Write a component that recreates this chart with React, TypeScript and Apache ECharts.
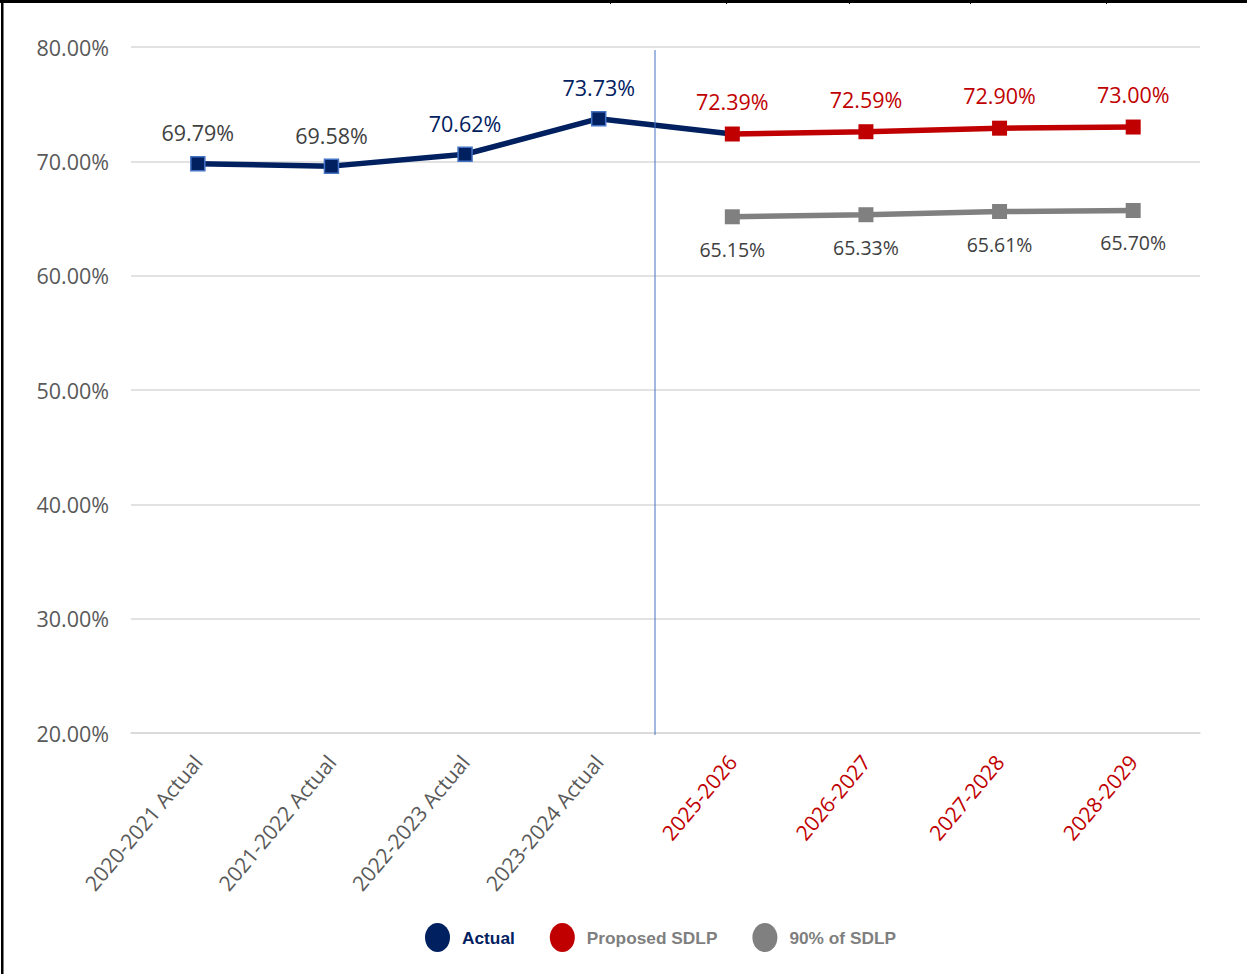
import React, { useEffect, useRef } from "react";
import * as echarts from "echarts";

const categories = [
  "2020-2021 Actual",
  "2021-2022 Actual",
  "2022-2023 Actual",
  "2023-2024 Actual",
  "2025-2026",
  "2026-2027",
  "2027-2028",
  "2028-2029",
];
const actualValues: (number | null)[] = [69.79, 69.58, 70.62, 73.73, 72.39, null, null, null];
const proposedValues: (number | null)[] = [null, null, null, null, 72.39, 72.59, 72.9, 73.0];
const ninetyValues: (number | null)[] = [null, null, null, null, 65.15, 65.33, 65.61, 65.7];
const yTicks = { min: 20, max: 80, interval: 10 };

const NAVY = "#002060";
const RED = "#C00000";
const GRAY = "#808080";
const DARK = "#404040";
const FONT = "'Open Sans', 'Noto Sans', sans-serif";

export default function App() {
  const ref = useRef<HTMLDivElement>(null);
  useEffect(() => {
    document.body.style.margin = "0";
    const chart = echarts.init(ref.current!, null, { renderer: "svg" });
    const actualData = actualValues.map((v, i) => {
      if (v === null) return null;
      if (i === 4) return { value: v, symbol: "none", label: { show: false } };
      return { value: v, label: { color: i < 2 ? DARK : NAVY } };
    });
    chart.setOption({
      animation: false,
      backgroundColor: "#ffffff",
      grid: { left: 131, right: 47, top: 47, bottom: 241, containLabel: false },
      xAxis: {
        type: "category",
        data: categories.map((c, i) => ({
          value: c,
          textStyle: { color: i < 4 ? "#595959" : RED },
        })),
        boundaryGap: true,
        axisLine: { show: true, lineStyle: { color: "#d9d9d9", width: 1.5 } },
        axisTick: { show: false },
        axisLabel: {
          rotate: 50,
          interval: 0,
          fontSize: 21,
          fontFamily: FONT,
          margin: 25,
        },
      },
      yAxis: {
        type: "value",
        min: yTicks.min,
        max: yTicks.max,
        interval: yTicks.interval,
        axisLine: { show: false },
        axisTick: { show: false },
        splitLine: { lineStyle: { color: "#d9d9d9", width: 1.5 } },
        axisLabel: {
          formatter: (v: number) => v.toFixed(2) + "%",
          color: "#595959",
          fontSize: 21.5,
          fontFamily: FONT,
          margin: 22,
        },
      },
      legend: {
        left: 420,
        top: 918,
        itemWidth: 25,
        itemHeight: 29,
        itemGap: 35,
        symbolKeepAspect: false,
        icon: "path://M50,0 A50,50 0 1,1 50,100 A50,50 0 1,1 50,0 Z",
        itemStyle: { borderWidth: 0 },
        textStyle: {
          fontSize: 17.3,
          fontWeight: "bold",
          fontFamily: "'Liberation Sans', Arial, sans-serif",
          color: "#7f7f7f",
          padding: [0, 0, 0, 7],
        },
        data: [
          { name: "Actual", textStyle: { color: NAVY } },
          { name: "Proposed SDLP" },
          { name: "90% of SDLP" },
        ],
      },
      graphic: [
        { type: "rect", shape: { x: 0, y: 0, width: 1247, height: 3 }, style: { fill: "#000" } },
        { type: "rect", shape: { x: 1, y: 0, width: 2.5, height: 974 }, style: { fill: "#000" } },
        ...[610, 726, 849, 970, 1106].map((x) => ({
          type: "rect",
          shape: { x, y: 0, width: 1, height: 4 },
          style: { fill: "#000" },
        })),
        {
          type: "line",
          shape: { x1: 655, y1: 50, x2: 655, y2: 735 },
          style: { stroke: "#4472C4", lineWidth: 1 },
          z: 5,
        },
      ],
      series: [
        {
          name: "Actual",
          type: "line",
          data: actualData,
          color: NAVY,
          symbol: "rect",
          symbolSize: 14,
          lineStyle: { color: NAVY, width: 5.5 },
          itemStyle: { color: NAVY, borderColor: "#4472C4", borderWidth: 1.5 },
          label: {
            show: true,
            position: "top",
            distance: 12,
            formatter: (p: any) => p.value.toFixed(2) + "%",
            fontSize: 21.5,
            fontFamily: FONT,
          },
          z: 3,
        },
        {
          name: "Proposed SDLP",
          type: "line",
          data: proposedValues,
          color: RED,
          symbol: "rect",
          symbolSize: 15,
          lineStyle: { color: RED, width: 5.5 },
          itemStyle: { color: RED },
          label: {
            show: true,
            position: "top",
            distance: 14,
            formatter: (p: any) => p.value.toFixed(2) + "%",
            color: RED,
            fontSize: 21.5,
            fontFamily: FONT,
          },
          z: 4,
        },
        {
          name: "90% of SDLP",
          type: "line",
          data: ninetyValues,
          color: GRAY,
          symbol: "rect",
          symbolSize: 15,
          lineStyle: { color: GRAY, width: 5.5 },
          itemStyle: { color: GRAY },
          label: {
            show: true,
            position: "bottom",
            distance: 15,
            formatter: (p: any) => p.value.toFixed(2) + "%",
            color: DARK,
            fontSize: 19.5,
            fontFamily: FONT,
          },
          z: 4,
        },
      ],
    });
    return () => chart.dispose();
  }, []);
  return <div ref={ref} style={{ width: 1247, height: 974 }} />;
}
